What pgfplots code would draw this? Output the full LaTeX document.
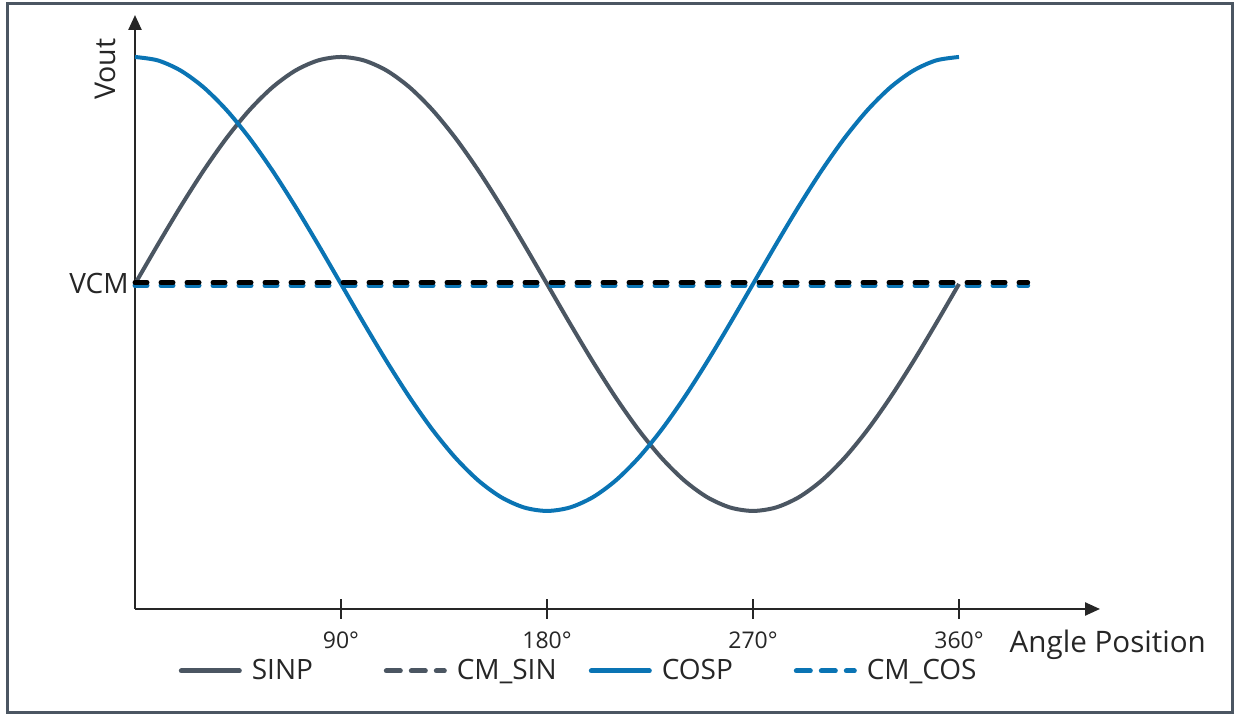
\documentclass[border=0pt]{standalone}
\usepackage{pgfplots}
\pgfplotsset{compat=1.18}
\usepackage{fontspec}
\setmainfont{Open Sans}
\usetikzlibrary{arrows.meta}
\definecolor{sinc}{HTML}{4B5662}
\definecolor{cosc}{HTML}{0A74B4}
\definecolor{framec}{HTML}{4B5662}
\definecolor{txt}{HTML}{262626}
\pgfplotstableread{
x sinp cosp
0 0 1
10 0.1736 0.9848
20 0.3420 0.9397
30 0.5 0.8660
40 0.6428 0.7660
50 0.7660 0.6428
60 0.8660 0.5
70 0.9397 0.3420
80 0.9848 0.1736
90 1 0
100 0.9848 -0.1736
110 0.9397 -0.3420
120 0.8660 -0.5
130 0.7660 -0.6428
140 0.6428 -0.7660
150 0.5 -0.8660
160 0.3420 -0.9397
170 0.1736 -0.9848
180 0 -1
190 -0.1736 -0.9848
200 -0.3420 -0.9397
210 -0.5 -0.8660
220 -0.6428 -0.7660
230 -0.7660 -0.6428
240 -0.8660 -0.5
250 -0.9397 -0.3420
260 -0.9848 -0.1736
270 -1 0
280 -0.9848 0.1736
290 -0.9397 0.3420
300 -0.8660 0.5
310 -0.7660 0.6428
320 -0.6428 0.7660
330 -0.5 0.8660
340 -0.3420 0.9397
350 -0.1736 0.9848
360 0 1
}\curves
\begin{document}
\begin{tikzpicture}
\useasboundingbox (0,0) rectangle (620pt,357.5pt);
\draw[framec, line width=1.5pt] (3.5pt,1pt) rectangle (616pt,355.5pt);
\begin{axis}[
  at={(67.5pt,53pt)}, anchor=south west,
  scale only axis, width=482.5pt, height=297pt,
  xmin=0, xmax=421.6, ymin=-1.432, ymax=1.185,
  axis lines=left,
  axis line style={line width=1.2pt, color=txt, -{Triangle[length=7.5pt,width=6.5pt]}},
  xtick={90,180,270,360},
  xticklabels={90°,180°,270°,360°},
  xtick align=center,
  major tick length=10pt,
  xtick style={line width=0.6pt, color=txt},
  ytick={0}, yticklabels={VCM},
  ytick style={draw=none},
  xticklabel style={font=\fontsize{11.5}{13}\selectfont, text=txt, anchor=base, yshift=-15pt},
  yticklabel style={font=\fontsize{14}{16}\selectfont, text=txt, anchor=east, inner sep=0pt, xshift=2pt},
  xlabel={Angle Position},
  xlabel style={font=\fontsize{14.8}{17}\selectfont, text=txt, at={(axis description cs:0.906,0)}, anchor=base west, yshift=-22pt, inner sep=0pt},
  ylabel={Vout},
  ylabel style={font=\fontsize{14.3}{17}\selectfont, text=txt, at={(axis description cs:0,0.909)}, anchor=base, yshift=10pt, inner sep=0pt},
  legend image code/.code={\draw[#1, line width=2.5pt, line cap=round] (0pt,0pt) -- (29pt,0pt);},
  legend columns=4,
  legend style={draw=none, fill=none, at={(axis description cs:0.045,-0.1043)}, anchor=west, inner sep=0pt,
    font=\fontsize{14}{16}\selectfont, text=txt,
    /tikz/every even column/.append style={column sep=14pt}},
  clip=false,
]
\addlegendimage{sinc}
\addlegendentry{\makebox[53pt][l]{\hspace*{3pt}SINP}}
\addlegendimage{sinc, dash pattern=on 7pt off 5.5pt}
\addlegendentry{\makebox[53pt][l]{\hspace*{3pt}CM\_SIN}}
\addlegendimage{cosc}
\addlegendentry{\makebox[53pt][l]{\hspace*{3pt}COSP}}
\addlegendimage{cosc, dash pattern=on 7pt off 5.5pt}
\addlegendentry{\makebox[53pt][l]{\hspace*{3pt}CM\_COS}}
\addplot[sinc, line width=2pt, smooth, forget plot] table[x=x, y=sinp] {\curves};
\addplot[cosc, line width=2pt, smooth, forget plot] table[x=x, y=cosp] {\curves};
\addplot[cosc, line width=2.5pt, line cap=round, dash pattern=on 6pt off 7pt, yshift=-0.75pt, forget plot] coordinates {(0,0) (390,0)};
\addplot[black, line width=2.5pt, line cap=round, dash pattern=on 6pt off 7pt, yshift=0.75pt, forget plot] coordinates {(0,0) (390,0)};
\end{axis}
\end{tikzpicture}
\end{document}
